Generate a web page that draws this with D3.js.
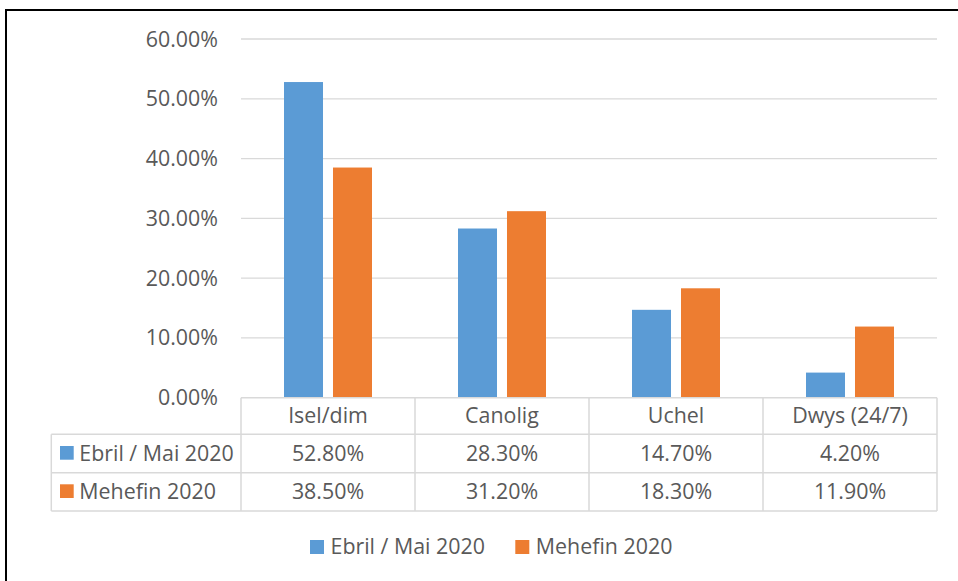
<!DOCTYPE html>
<html>
<head>
<meta charset="utf-8">
<script src="https://cdn.jsdelivr.net/npm/d3@7"></script>
<style>
  body { margin: 0; background: #fff; }
  svg { display: block; }
  text { font-family: "Open Sans", sans-serif; fill: #595959; }
</style>
</head>
<body>
<svg id="chart" width="958" height="581"></svg>
<script>
const categories = ["Isel/dim", "Canolig", "Uchel", "Dwys (24/7)"];
const seriesNames = ["Ebril / Mai 2020", "Mehefin 2020"];
const ebrilMai = [0.528, 0.283, 0.147, 0.042];
const mehefin = [0.385, 0.312, 0.183, 0.119];
const yTicks = [0, 0.1, 0.2, 0.3, 0.4, 0.5, 0.6];
const colors = ["#5B9BD5", "#ED7D31"];

const seriesValues = [ebrilMai, mehefin];
const fmt = d3.format(".2%");
const FS = 21.4;

const svg = d3.select("#chart");

// outer border (extends beyond the visible frame on right/bottom)
svg.append("path")
  .attr("d", "M6,590 L6,10 L970,10")
  .attr("fill", "none")
  .attr("stroke", "#000")
  .attr("stroke-width", 2);

const x0 = 241, x1 = 937;
const y = d3.scaleLinear().domain([0, 0.6]).range([397.7, 39]);
const x = d3.scaleBand().domain(categories).range([x0, x1]).paddingInner(0).paddingOuter(0);
const xs = d3.scaleBand().domain(seriesNames).range([43, 131]).paddingInner(0.204).paddingOuter(0);

// gridlines
svg.append("g").selectAll("line").data(yTicks.filter(d => d > 0)).join("line")
  .attr("x1", x0).attr("x2", x1)
  .attr("y1", d => y(d)).attr("y2", d => y(d))
  .attr("stroke", "#D9D9D9").attr("stroke-width", 1.3);

// y tick labels
svg.append("g").selectAll("text").data(yTicks).join("text")
  .attr("x", 218).attr("y", d => y(d) + 7.5)
  .attr("text-anchor", "end")
  .attr("font-size", FS)
  .text(d => fmt(d));

// bars
seriesNames.forEach((s, si) => {
  svg.append("g").selectAll("rect").data(categories).join("rect")
    .attr("x", c => x(c) + xs(s))
    .attr("width", xs.bandwidth())
    .attr("y", (c, i) => y(seriesValues[si][i]))
    .attr("height", (c, i) => y(0) - y(seriesValues[si][i]))
    .attr("fill", colors[si]);
});

// data table
const rowY = [397.7, 434.3, 472.7, 511];
const tableLeft = 51.3;
const tg = svg.append("g");
const lineColor = "#D9D9D9";
tg.append("line").attr("x1", x0).attr("x2", x1).attr("y1", rowY[0]).attr("y2", rowY[0])
  .attr("stroke", lineColor).attr("stroke-width", 1.5);
[rowY[1], rowY[2], rowY[3]].forEach(yy => {
  tg.append("line").attr("x1", tableLeft).attr("x2", x1).attr("y1", yy).attr("y2", yy)
    .attr("stroke", lineColor).attr("stroke-width", 1.5);
});
const colEdges = categories.map(c => x(c)).concat([x1]);
colEdges.forEach(xx => {
  tg.append("line").attr("x1", xx).attr("x2", xx).attr("y1", rowY[0]).attr("y2", rowY[3])
    .attr("stroke", lineColor).attr("stroke-width", 1.5);
});
tg.append("line").attr("x1", tableLeft).attr("x2", tableLeft).attr("y1", rowY[1]).attr("y2", rowY[3])
  .attr("stroke", lineColor).attr("stroke-width", 1.5);

tg.selectAll("text.cat").data(categories).join("text")
  .attr("class", "cat")
  .attr("x", c => x(c) + x.bandwidth() / 2)
  .attr("y", 423.3)
  .attr("text-anchor", "middle")
  .attr("font-size", FS)
  .text(c => c);

const rowBase = [461, 499.3];
seriesNames.forEach((s, si) => {
  tg.append("rect").attr("x", 60).attr("y", rowBase[si] - 15).attr("width", 13.7).attr("height", 13.7)
    .attr("fill", colors[si]);
  tg.append("text").attr("x", 79.3).attr("y", rowBase[si]).attr("font-size", FS).text(s);
  tg.append("g").selectAll("text").data(categories).join("text")
    .attr("x", c => x(c) + x.bandwidth() / 2)
    .attr("y", rowBase[si])
    .attr("text-anchor", "middle")
    .attr("font-size", FS)
    .text((c, i) => fmt(seriesValues[si][i]));
});

// bottom legend
const legendPos = [310, 515.3];
seriesNames.forEach((s, si) => {
  const g = svg.append("g").attr("transform", `translate(${legendPos[si]},0)`);
  g.append("rect").attr("x", 0).attr("y", 540).attr("width", 14).attr("height", 14).attr("fill", colors[si]);
  g.append("text").attr("x", 20.5).attr("y", 553.7).attr("font-size", FS).text(s);
});
</script>
</body>
</html>
